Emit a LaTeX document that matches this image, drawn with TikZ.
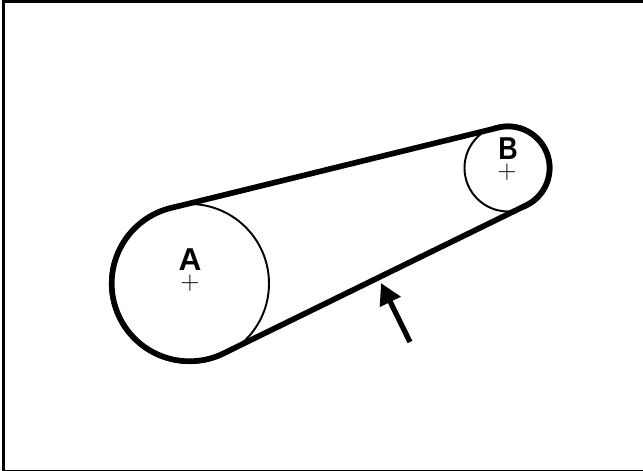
\documentclass[tikz,border=0pt]{standalone}
\usepackage{fontspec}
\setsansfont{Liberation Sans}
\usetikzlibrary{arrows.meta,calc}
\tikzset{
	belt/.style={line width=3.2pt,line join=round},
	pulley/.style={line width=1.1pt},
	letter/.style={font=\fontsize{18}{18}\selectfont\sffamily\bfseries,inner sep=0pt},
	cross/.style={font=\fontsize{14}{14}\selectfont,inner sep=0pt},
}
\begin{document}
\begin{tikzpicture}
	\useasboundingbox (0,0) rectangle (12.86,9.42);
	\coordinate (A) at (3.79,3.75);
	\coordinate (B) at (10.16,6.06);
	\coordinate (topR) at (12.86,9.39);
	\coordinate (topL) at (0.07,9.39);
	\coordinate (botL) at (0.07,-0.01);
	\coordinate (botR) at (12.86,-0.01);
	\coordinate (tail) at (8.2,2.58);
	\coordinate (tip) at (7.62,3.76);
	\draw[line width=1.7pt] (topR)--(topL)--(botL)--(botR);
	\draw[pulley] (A) circle (1.59);
	\draw[pulley] (B) circle (0.87);
	\draw[belt] (A) ++(103.72:1.555) arc (103.72:296.04:1.555)
		-- ($(B)+(-63.96:0.83)$) arc (-63.96:103.72:0.83) -- cycle;
	\draw[line width=3pt,-{Triangle[length=12pt,width=12.5pt]}] (tail)--(tip);
	\node[letter] (labelA) at (3.8,4.22) {A};
	\node[letter,xscale=0.85,transform shape] (labelB) at (10.16,6.44) {B};
	\node[cross] (crossA) at (3.8,3.76) {$+$};
	\node[cross] (crossB) at (10.14,5.98) {$+$};
\end{tikzpicture}
\end{document}
